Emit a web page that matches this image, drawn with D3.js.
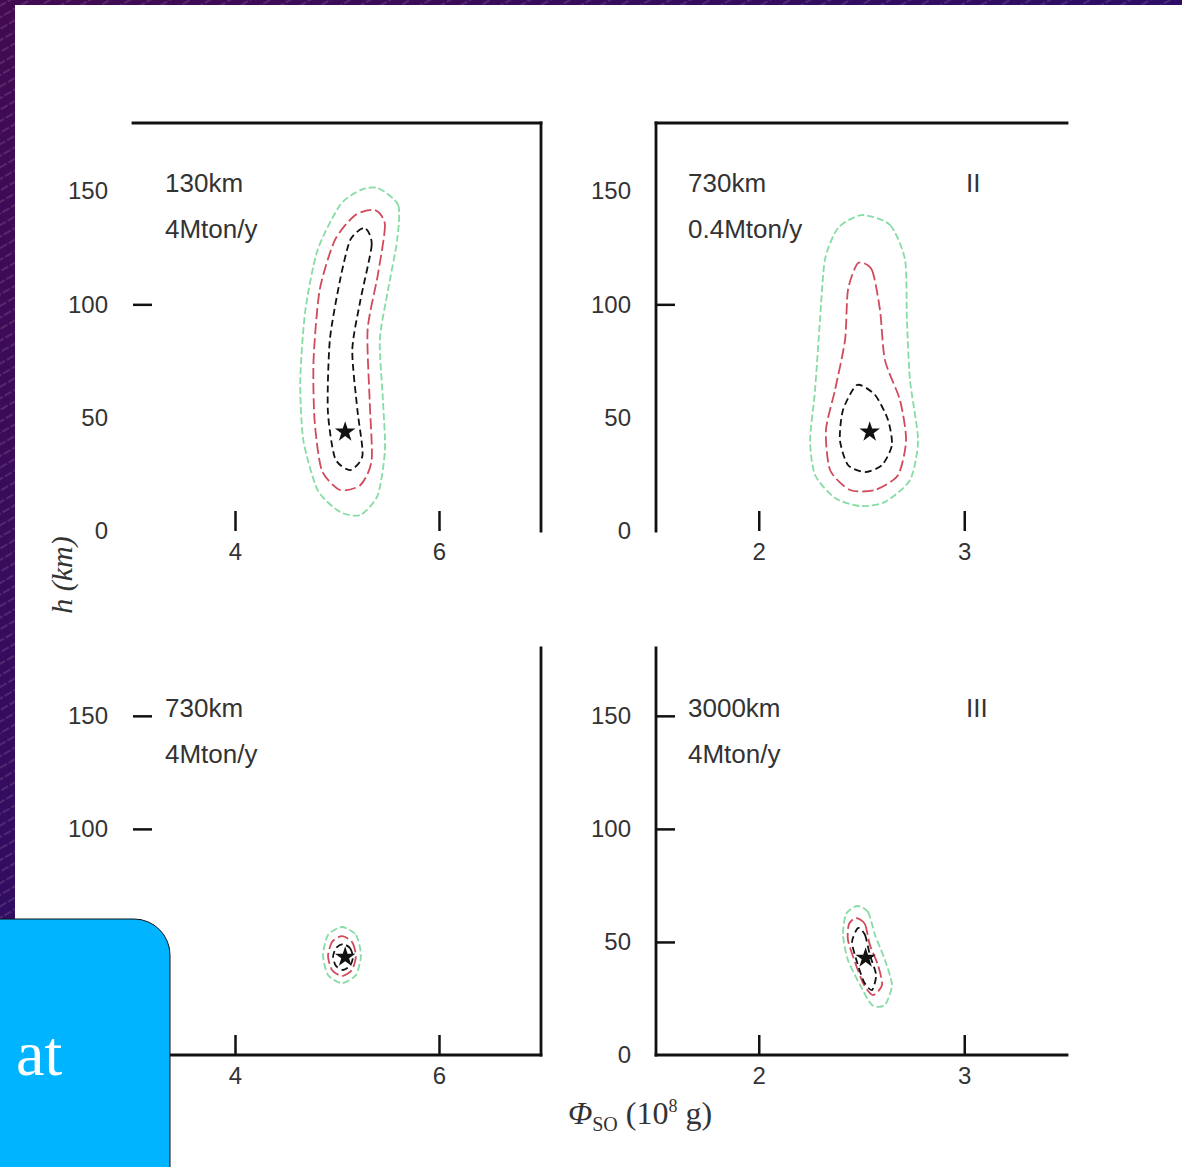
<!DOCTYPE html>
<html>
<head>
<meta charset="utf-8">
<script src="https://cdn.jsdelivr.net/npm/d3@7"></script>
<style>
  html, body { margin: 0; padding: 0; background: #2a0a60; }
  svg { display: block; }
  .tick text { font-family: "Liberation Sans", Arial, sans-serif; font-size: 24px; fill: #333; }
  .lbl { font-family: "Liberation Sans", Arial, sans-serif; font-size: 26px; fill: #333; }
</style>
</head>
<body>
<svg id="chart" width="1182" height="1167"></svg>
<script>
// values
let yTicks = [0, 50, 100, 150];
let xTicksLeft = [4, 6];
let xTicksRight = [2, 3];
let depthLabels = ['130km', '730km', '730km', '3000km'];
let rateLabels = ['4Mton/y', '0.4Mton/y', '4Mton/y', '4Mton/y'];
let romanLabels = ['', 'II', '', 'III'];
let bestFit = [[5.08, 43.7], [2.54, 43.7], [5.08, 43.3], [2.52, 42.9]];
// y ticks whose dash survives in the scan
let yMarks = [[100], [100], [150, 100], [150, 100, 50]];

let outerTL = [[5.40,151.3],[5.60,143.8],[5.59,128.4],[5.50,106.3],[5.42,84.3],[5.45,57.8],[5.47,35.7],[5.40,15.9],[5.23,7.1],[5.03,8.4],[4.81,18.1],[4.67,40.1],[4.64,66.6],[4.69,97.5],[4.81,124.0],[5.03,143.8],[5.23,150.4]];
let midTL = [[5.37,141.6],[5.47,135.0],[5.40,112.9],[5.30,88.7],[5.32,57.8],[5.34,31.3],[5.23,20.3],[5.03,18.1],[4.85,26.9],[4.78,49.0],[4.77,75.4],[4.83,106.3],[4.98,128.4],[5.18,139.4]];
let innerTL = [[5.27,133.7],[5.34,126.2],[5.23,101.9],[5.15,79.9],[5.20,53.4],[5.25,33.5],[5.13,26.9],[4.98,32.2],[4.91,53.4],[4.93,84.3],[5.03,110.7],[5.13,128.4]];

let outerTR = [[2.502,139.4],[2.639,135.0],[2.712,119.6],[2.721,93.1],[2.736,66.6],[2.775,40.1],[2.736,22.5],[2.614,12.8],[2.493,11.0],[2.371,14.6],[2.274,24.7],[2.250,40.1],[2.274,62.2],[2.298,93.1],[2.322,119.6],[2.386,133.7]];
let midTR = [[2.483,118.2],[2.551,115.1],[2.590,97.5],[2.614,75.4],[2.687,57.8],[2.717,40.1],[2.678,24.7],[2.566,18.1],[2.444,18.1],[2.347,26.9],[2.327,44.6],[2.371,62.2],[2.420,84.3],[2.434,106.3]];
let innerTR = [[2.478,64.4],[2.566,60.0],[2.629,49.0],[2.648,37.9],[2.600,29.1],[2.517,26.0],[2.434,29.1],[2.395,40.1],[2.410,53.4]];

let outerBL = [[5.049,56.6],[5.186,53.1],[5.235,44.2],[5.186,35.4],[5.049,31.8],[4.912,35.4],[4.863,44.2],[4.912,53.1]];
let midBL = [[5.049,52.6],[5.147,50.0],[5.186,43.8],[5.147,37.6],[5.049,34.9],[4.951,37.6],[4.912,43.8],[4.951,50.0]];
let innerBL = [[5.059,49.1],[5.127,47.3],[5.157,43.3],[5.127,39.4],[5.059,37.6],[4.990,39.4],[4.961,43.3],[4.990,47.3]];

let outerBR = [[2.478,65.9],[2.532,63.2],[2.566,53.1],[2.614,42.0],[2.648,31.0],[2.614,22.1],[2.551,22.1],[2.493,31.0],[2.434,42.0],[2.410,53.1],[2.425,62.4]];
let midBR = [[2.473,60.6],[2.517,57.9],[2.541,48.6],[2.580,39.8],[2.600,31.0],[2.556,26.5],[2.512,31.0],[2.468,41.1],[2.434,50.9],[2.439,57.9]];
let innerBR = [[2.483,56.2],[2.517,53.1],[2.541,44.2],[2.571,35.4],[2.551,28.7],[2.512,32.3],[2.478,41.1],[2.454,50.0]];

let panels = [
    {x0: 133, x1: 541, y0: 123, y1: 531, xd: [3, 7], xt: xTicksLeft, sides: ['top', 'right'], c: [outerTL, midTL, innerTL]},
    {x0: 656, x1: 1067, y0: 123, y1: 531, xd: [1.5, 3.5], xt: xTicksRight, sides: ['top', 'left'], c: [outerTR, midTR, innerTR]},
    {x0: 133, x1: 541, y0: 648, y1: 1055, xd: [3, 7], xt: xTicksLeft, sides: ['right', 'bottom'], c: [outerBL, midBL, innerBL]},
    {x0: 656, x1: 1067, y0: 648, y1: 1055, xd: [1.5, 3.5], xt: xTicksRight, sides: ['left', 'bottom'], c: [outerBR, midBR, innerBR]},
];

let contourStyle = [
    {stroke: '#86dca4', dash: '7,3', width: 1.8},
    {stroke: '#d04a5c', dash: '11,4', width: 1.8},
    {stroke: '#111', dash: '7,4', width: 1.8},
];

let svg = d3.select('#chart');
let defs = svg.append('defs');

let grad = defs.append('linearGradient').attr('id', 'bg').attr('x1', 0).attr('y1', 0).attr('x2', 1).attr('y2', 1);
grad.append('stop').attr('offset', '0%').attr('stop-color', '#430a52');
grad.append('stop').attr('offset', '100%').attr('stop-color', '#18107a');

let hatch = defs.append('pattern').attr('id', 'hatch').attr('patternUnits', 'userSpaceOnUse')
    .attr('width', 10).attr('height', 10).attr('patternTransform', 'rotate(-30)');
hatch.append('line').attr('x1', 0).attr('y1', 5).attr('x2', 10).attr('y2', 5)
    .attr('stroke', 'rgba(255,255,255,0.35)').attr('stroke-width', 0.7).attr('stroke-dasharray', '4,2');

svg.append('rect').attr('width', 1182).attr('height', 1167).attr('fill', 'url(#bg)');
svg.append('rect').attr('width', 1182).attr('height', 1167).attr('fill', 'url(#hatch)');
svg.append('rect').attr('x', 15).attr('y', 5).attr('width', 1167).attr('height', 1162).attr('fill', '#fff');

let line = d3.line().curve(d3.curveCardinalClosed.tension(0.3));

panels.forEach((p, i) => {
    let x = d3.scaleLinear().domain(p.xd).range([p.x0, p.x1]);
    let y = d3.scaleLinear().domain([0, 180]).range([p.y1, p.y0]);
    let g = svg.append('g');

    let yAxis = d3.axisLeft(y).tickValues(yTicks).tickFormat(d3.format('d'))
        .tickSizeInner(-19).tickSizeOuter(0).tickPadding(25);
    let ya = g.append('g').attr('transform', `translate(${p.x0},0)`).call(yAxis);
    ya.select('.domain').remove();
    ya.selectAll('.tick line').attr('visibility', d => yMarks[i].includes(d) ? 'visible' : 'hidden');

    let xAxis = d3.axisBottom(x).tickValues(p.xt).tickFormat(d3.format('d'))
        .tickSizeInner(-20).tickSizeOuter(0).tickPadding(12);
    let xa = g.append('g').attr('transform', `translate(0,${p.y1})`).call(xAxis);
    xa.select('.domain').remove();

    g.selectAll('.tick line').attr('stroke', '#111').attr('stroke-width', 2.5);

    let edges = {
        top: [p.x0, p.y0, p.x1, p.y0],
        bottom: [p.x0, p.y1, p.x1, p.y1],
        left: [p.x0, p.y0, p.x0, p.y1],
        right: [p.x1, p.y0, p.x1, p.y1],
    };
    p.sides.forEach(s => {
        let e = edges[s];
        g.append('line').attr('x1', e[0]).attr('y1', e[1]).attr('x2', e[2]).attr('y2', e[3])
            .attr('stroke', '#111').attr('stroke-width', 2.8).attr('stroke-linecap', 'square');
    });

    p.c.forEach((pts, k) => {
        let st = contourStyle[k];
        g.append('path')
            .attr('d', line(pts.map(d => [x(d[0]), y(d[1])])))
            .attr('fill', 'none')
            .attr('stroke', st.stroke)
            .attr('stroke-width', st.width)
            .attr('stroke-dasharray', st.dash);
    });

    g.append('path')
        .attr('d', d3.symbol(d3.symbolStar, 130)())
        .attr('transform', `translate(${x(bestFit[i][0])},${y(bestFit[i][1])})`)
        .attr('fill', '#111');

    let tx = p.x0 + 32;
    g.append('text').attr('class', 'lbl').attr('x', tx).attr('y', p.y0 + 69).text(depthLabels[i]);
    g.append('text').attr('class', 'lbl').attr('x', tx).attr('y', p.y0 + 115).text(rateLabels[i]);
    g.append('text').attr('class', 'lbl').attr('x', p.x0 + 310).attr('y', p.y0 + 69).text(romanLabels[i]);
});

// axis titles
svg.append('text')
    .attr('transform', 'translate(72,575) rotate(-90)')
    .attr('text-anchor', 'middle')
    .attr('font-family', '"Liberation Serif", serif')
    .attr('font-style', 'italic')
    .attr('font-size', 30)
    .attr('fill', '#333')
    .text('h (km)');

let xt = svg.append('text')
    .attr('x', 640).attr('y', 1124)
    .attr('text-anchor', 'middle')
    .attr('font-family', '"Liberation Serif", serif')
    .attr('font-size', 32)
    .attr('fill', '#333');
xt.append('tspan').attr('font-style', 'italic').text('Φ');
xt.append('tspan').attr('font-size', 20).attr('dy', 7).text('SO');
xt.append('tspan').attr('dy', -7).text(' (10');
xt.append('tspan').attr('font-size', 18).attr('dy', -12).text('8');
xt.append('tspan').attr('dy', 12).text(' g)');

// overlay box
svg.append('path')
    .attr('d', 'M-2,919 H134 A36,36 0 0 1 170,955 V1170 H-2 Z')
    .attr('fill', '#00b4ff')
    .attr('stroke', '#111')
    .attr('stroke-width', 1);
svg.append('text')
    .attr('x', 16).attr('y', 1075)
    .attr('font-family', '"Liberation Serif", "Times New Roman", serif')
    .attr('font-size', 64)
    .attr('fill', '#fff')
    .text('at');
</script>
</body>
</html>
